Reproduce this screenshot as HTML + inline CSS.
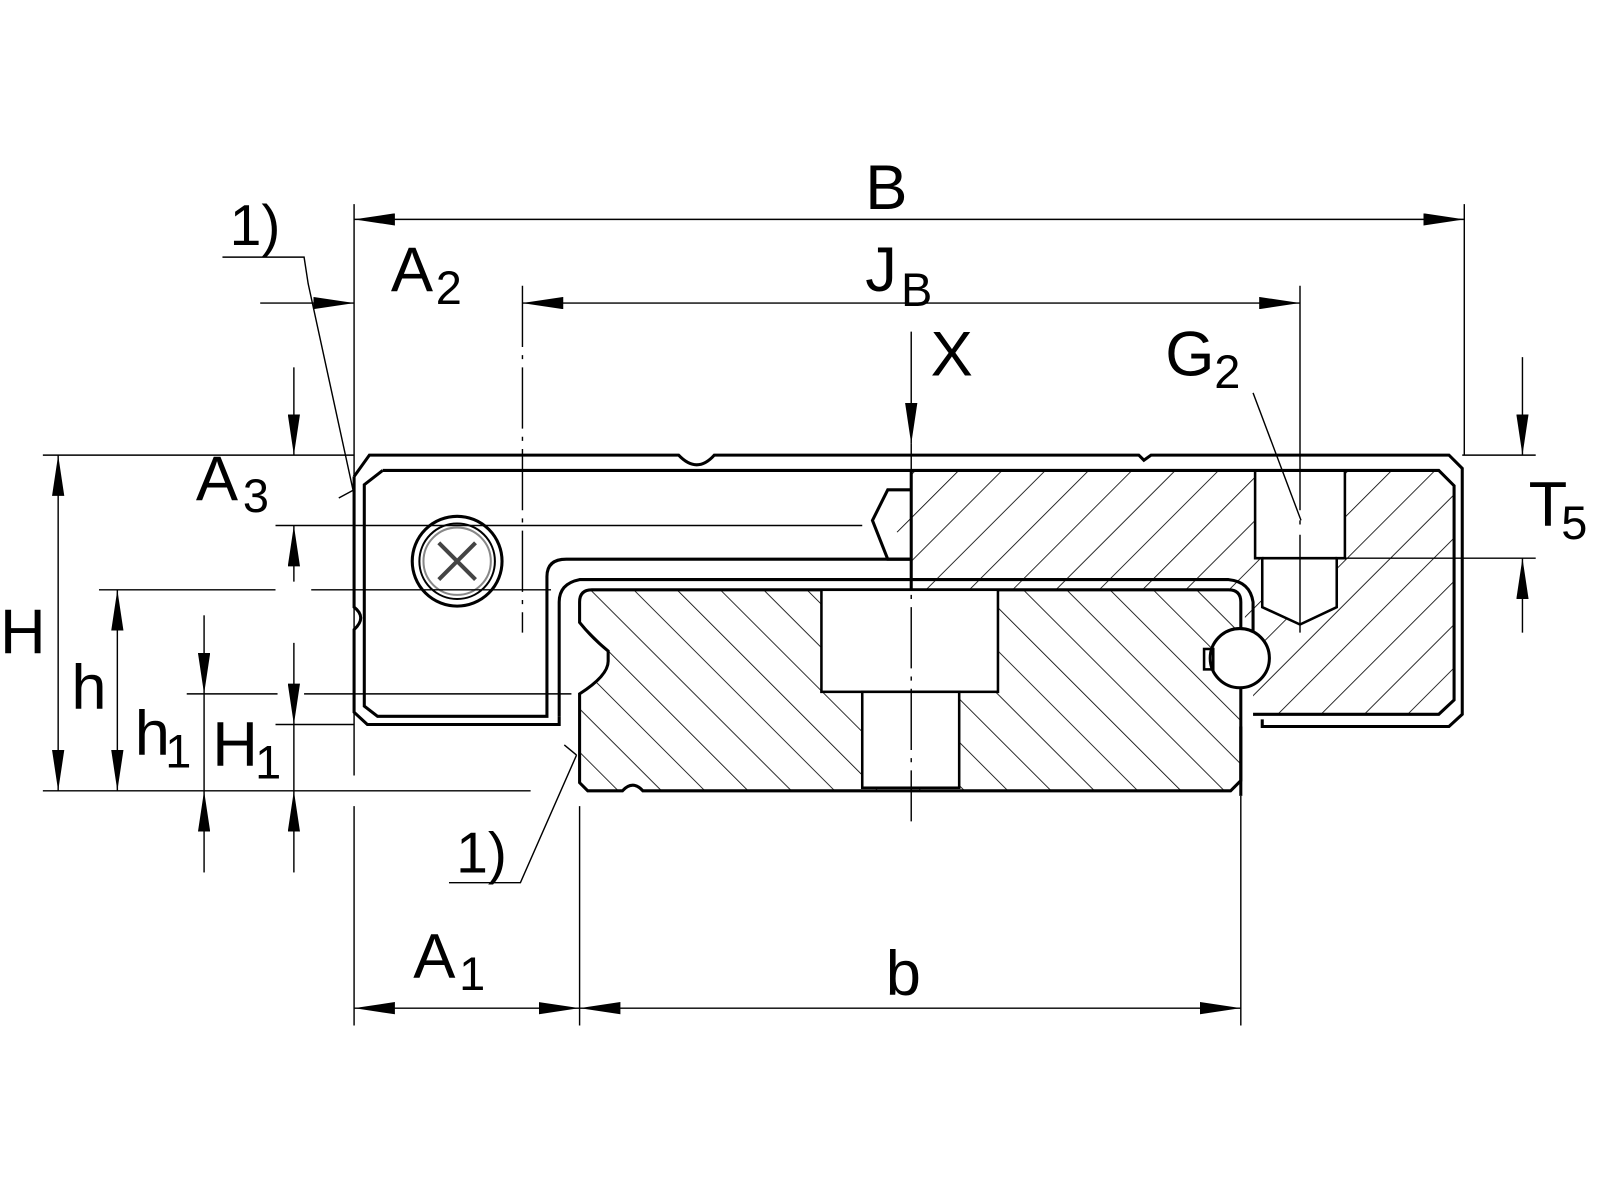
<!DOCTYPE html>
<html><head><meta charset="utf-8"><style>html,body{margin:0;padding:0;background:#fff}svg{display:block}</style></head><body>
<svg width="1600" height="1200" viewBox="0 0 1568 1176" xmlns="http://www.w3.org/2000/svg" font-family="Liberation Sans, Arial, sans-serif">
<defs>
<marker id="a" viewBox="0 0 40 12" refX="40" refY="6" markerWidth="40" markerHeight="12" markerUnits="userSpaceOnUse" orient="auto-start-reverse"><path d="M0,0 L40,6 L0,12 Z" fill="#000"/></marker>
<pattern id="hc" patternUnits="userSpaceOnUse" width="30" height="30" patternTransform="rotate(45)"><line x1="0" y1="0" x2="0" y2="30" stroke="#000" stroke-width="1.6"/></pattern>
<pattern id="hr" patternUnits="userSpaceOnUse" width="30" height="30" patternTransform="rotate(-45)"><line x1="0" y1="0" x2="0" y2="30" stroke="#000" stroke-width="1.6"/></pattern>
</defs>
<rect width="1568" height="1176" fill="#fff"/>

<path d="M893,461 L1410,461 L1425,476 L1425,686 L1410,700 L1228,700 L1228,665 L1245,640 L1220,610 L1220,578 L893,578 L893,530 L870,516 L893,480 Z" fill="url(#hc)"/>
<path d="M1230,461 L1318,461 L1318,547 L1310,547 L1310,595 L1274,612 L1237,595 L1237,547 L1230,547 Z" fill="#fff" stroke="#000" stroke-width="2.5"/>
<line x1="1237" y1="547" x2="1310" y2="547" stroke="#000" stroke-width="2.5"/>
<path d="M568,590 Q568,578 580,578 L1204,578 Q1216,578 1216,590 L1216,765 L1206,775 L630,775 Q620,764 610,775 L576,775 L568,767 L568,680 Q596,662 596,648 L596,638 Q580,625 568,610 Z" fill="url(#hr)" stroke="#000" stroke-width="3"/>
<rect x="805" y="578" width="173" height="100" fill="#fff" stroke="#000" stroke-width="2.5"/>
<rect x="845" y="678" width="95" height="94" fill="#fff" stroke="#000" stroke-width="2.5"/>

<g fill="none" stroke="#000" stroke-width="3">
<path d="M347,467 L362,446 L665,446 Q683,465 700,446 L1116,446 L1121,451 L1128,446 L1420,446 L1433,459 L1433,700 L1420,712 L1237,712 L1237,705"/>
<path d="M347,467 L347,595 Q360,605 347,617 L347,698 L360,710 L548,710 L548,702"/>
<path d="M375,461 L1410,461 L1425,476 L1425,686 L1410,700 L1228,700"/>
<path d="M375,461 L357,475 L357,692 L370,702 L536,702 L536,565 Q536,548 555,548 L893,548"/>
<path d="M548,702 L548,590 Q548,572 568,568 L1204,568 Q1225,570 1228,590 L1228,620"/>
<path d="M893,461 L893,578"/>
<path d="M893,480 L870,480 L855,510 L870,548 L893,548"/>
<path d="M1216,712 L1216,780"/>
</g>
<circle cx="1215" cy="645" r="29" fill="#fff" stroke="#000" stroke-width="3"/>
<rect x="1180" y="636" width="9" height="20" fill="none" stroke="#000" stroke-width="2.5"/>
<circle cx="448" cy="550" r="44" fill="none" stroke="#000" stroke-width="3"/>
<circle cx="448" cy="550" r="37" fill="none" stroke="#000" stroke-width="2"/>
<circle cx="448" cy="550" r="33" fill="none" stroke="#888" stroke-width="2"/>
<path d="M430,532 L466,568 M466,532 L430,568" stroke="#444" stroke-width="4"/>

<g stroke="#000" stroke-width="1.4" fill="none">
<line x1="347" y1="215" x2="1435" y2="215" marker-start="url(#a)" marker-end="url(#a)"/>
<line x1="347" y1="200" x2="347" y2="760"/><line x1="1435" y1="200" x2="1435" y2="446"/>
<line x1="347" y1="790" x2="347" y2="1005"/>
<line x1="512" y1="297" x2="1274" y2="297" marker-start="url(#a)" marker-end="url(#a)"/>
<line x1="255" y1="297" x2="347" y2="297" marker-end="url(#a)"/>
<line x1="512" y1="280" x2="512" y2="620" stroke-dasharray="60,8,4,8"/>
<line x1="1274" y1="280" x2="1274" y2="620" stroke-dasharray="220,10,4,10"/>
<line x1="893" y1="325" x2="893" y2="435" marker-end="url(#a)"/>
<line x1="893" y1="435" x2="893" y2="805" stroke-dasharray="60,8,4,8"/>
<line x1="1228" y1="385" x2="1275" y2="510"/>
<line x1="1433" y1="446" x2="1505" y2="446"/><line x1="1318" y1="547" x2="1505" y2="547"/>
<line x1="1492" y1="350" x2="1492" y2="446" marker-end="url(#a)"/>
<line x1="1492" y1="620" x2="1492" y2="547" marker-end="url(#a)"/>
<line x1="42" y1="446" x2="347" y2="446"/>
<line x1="42" y1="775" x2="520" y2="775"/>
<line x1="57" y1="446" x2="57" y2="775" marker-start="url(#a)" marker-end="url(#a)"/>
<line x1="97" y1="578" x2="270" y2="578"/><line x1="305" y1="578" x2="540" y2="578"/>
<line x1="115" y1="578" x2="115" y2="775" marker-start="url(#a)" marker-end="url(#a)"/>
<line x1="183" y1="680" x2="272" y2="680"/><line x1="298" y1="680" x2="560" y2="680"/>
<line x1="200" y1="603" x2="200" y2="680" marker-end="url(#a)"/>
<line x1="200" y1="855" x2="200" y2="775" marker-end="url(#a)"/>
<line x1="200" y1="680" x2="200" y2="775"/>
<line x1="270" y1="515" x2="845" y2="515"/>
<line x1="270" y1="710" x2="347" y2="710"/>
<line x1="288" y1="360" x2="288" y2="446" marker-end="url(#a)"/>
<line x1="288" y1="570" x2="288" y2="515" marker-end="url(#a)"/>
<line x1="288" y1="630" x2="288" y2="710" marker-end="url(#a)"/>
<line x1="288" y1="855" x2="288" y2="775" marker-end="url(#a)"/>
<line x1="288" y1="710" x2="288" y2="775"/>
<line x1="568" y1="790" x2="568" y2="1005"/><line x1="1216" y1="780" x2="1216" y2="1005"/>
<line x1="347" y1="988" x2="568" y2="988" marker-start="url(#a)" marker-end="url(#a)"/>
<line x1="568" y1="988" x2="1216" y2="988" marker-start="url(#a)" marker-end="url(#a)"/>
<path d="M218,252 L298,252 L302,278 L347,485"/>
<line x1="332" y1="488" x2="347" y2="480"/>
<path d="M440,865 L510,865 L565,740"/>
<line x1="553" y1="730" x2="565" y2="740"/>
</g>

<g fill="#000" font-size="62">
<text x="848" y="205">B</text>
<text x="848" y="285">J</text><text x="883" y="300" font-size="46">B</text>
<text x="383" y="285">A</text><text x="427" y="298" font-size="46">2</text>
<text x="912" y="368">X</text>
<text x="1142" y="368">G</text><text x="1190" y="380" font-size="46">2</text>
<text x="1498" y="515">T</text><text x="1530" y="528" font-size="46">5</text>
<text x="192" y="490">A</text><text x="238" y="502" font-size="46">3</text>
<text x="0" y="640">H</text>
<text x="70" y="695">h</text>
<text x="132" y="740">h</text><text x="162" y="752" font-size="46">1</text>
<text x="208" y="750">H</text><text x="250" y="763" font-size="46">1</text>
<text x="225" y="240" font-size="56">1)</text>
<text x="447" y="855" font-size="56">1)</text>
<text x="405" y="958">A</text><text x="450" y="970" font-size="46">1</text>
<text x="868" y="975">b</text>
</g>
</svg>
</body></html>
